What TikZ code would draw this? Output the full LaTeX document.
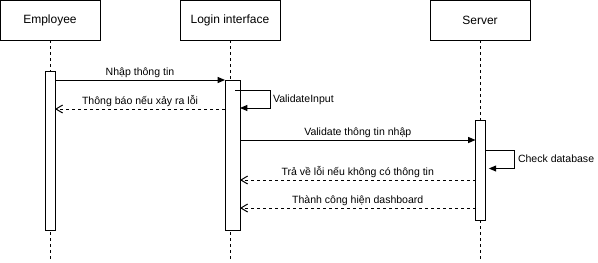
\documentclass[tikz,border=0pt]{standalone}
\usepackage{fontspec}
\setmainfont{Liberation Sans}
\usetikzlibrary{arrows.meta,fit}
\begin{document}
\begin{tikzpicture}[x=0.75pt,y=-0.75pt,
  every node/.style={inner sep=0pt,outer sep=0pt},
  box/.style={draw,line width=0.75pt,minimum width=75pt,minimum height=30pt,
    font=\fontsize{9}{11}\selectfont},
  act/.style={draw,fill=white,line width=0.75pt},
  life/.style={line width=0.75pt,dash pattern=on 2.25pt off 2.25pt},
  call/.style={line width=0.75pt,-{Triangle[length=5.5pt,width=4.5pt]}},
  reply/.style={line width=0.75pt,dash pattern=on 2.25pt off 2.25pt,
    -{Straight Barb[length=5pt,width=6pt]}},
  lbl/.style={font=\fontsize{7.9}{9.5}\selectfont},
  side/.style={font=\fontsize{7.9}{9.5}\selectfont,anchor=west}]
\useasboundingbox (0,0) rectangle (598,262);

% participants
\node[box] (emp) at (50,20) {Employee};
\node[box] (ui)  at (230,20) {Login interface};
\node[box] (srv) at (480,20) {Server};

% lifeline ends
\coordinate (empEnd) at (50,260);
\coordinate (uiEnd)  at (230,260);
\coordinate (srvEnd) at (480,260);
\draw[life] (emp.south) -- (empEnd);
\draw[life] (ui.south)  -- (uiEnd);
\draw[life] (srv.south) -- (srvEnd);

% activation bars
\node[act,fit={(45,71)(55,230)}]   (eact) {};
\node[act,fit={(225,80)(240,230)}] (uact) {};
\node[act,fit={(475.5,120)(485.5,220)}] (sact) {};

% self-call turning points
\coordinate (v1) at (270,90);
\coordinate (v2) at (270,108);
\coordinate (c1) at (514,150);
\coordinate (c2) at (514,168.5);

% messages
\draw[call] (eact.east |- 0,80) -- (uact.west |- 0,80)
  node[lbl,midway,above=2pt] {Nhập thông tin};
\draw[call] ([xshift=-3.75pt]uact.east |- v1) -- (v1) -- (v2) -- (uact.east |- v2);
\node[side] (vlbl) at (273,99.5) {ValidateInput};
\draw[reply] (uact.west |- 0,109) -- (eact.east |- 0,109)
  node[lbl,midway,above=2pt] {Thông báo nếu xảy ra lỗi};
\draw[call] (uact.east |- 0,140) -- (sact.west |- 0,140)
  node[lbl,midway,above=2pt] {Validate thông tin nhập};
\draw[call] (sact.east |- c1) -- (c1) -- (c2) -- ([xshift=2.5pt]sact.east |- c2);
\node[side] (clbl) at (518,158.5) {Check database};
\draw[reply] (sact.west |- 0,180) -- (uact.east |- 0,180)
  node[lbl,midway,above=2pt] {Trả về lỗi nếu không có thông tin};
\draw[reply] (sact.west |- 0,208) -- (uact.east |- 0,208)
  node[lbl,midway,above=2pt] {Thành công hiện dashboard};
\end{tikzpicture}
\end{document}
